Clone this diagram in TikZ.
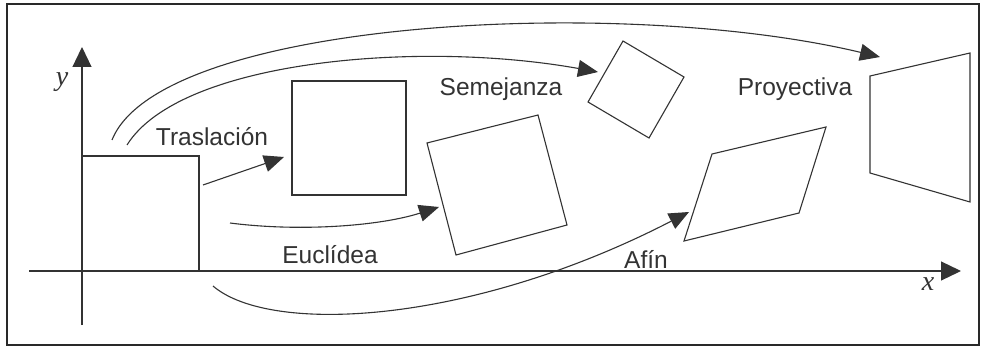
\documentclass[tikz,border=0pt]{standalone}
\usepackage{fontspec}
\setmainfont{Liberation Sans}
\newfontfamily\axfont{Liberation Serif}
\usetikzlibrary{arrows.meta}
\definecolor{ink}{HTML}{333333}
\tikzset{
  figline/.style={draw=ink, line width=1.1pt, line join=miter},
  axis/.style={draw=ink, line width=1.2pt, -{Triangle[length=20pt,width=19pt]}},
  conn/.style={draw=ink, line width=1.1pt, -{Triangle[length=20pt,width=17pt]}},
  lab/.style={text=ink, font=\fontsize{24.5}{28}\selectfont, inner sep=0pt},
  axlab/.style={text=ink, font=\axfont\itshape\fontsize{28}{30}\selectfont, inner sep=0pt}
}
\begin{document}
\begin{tikzpicture}[x=1pt,y=-1pt]
\useasboundingbox (0,0) rectangle (984,350);
\fill[white] (0,0) rectangle (984,350);
\draw[draw=ink!80!black, line width=2pt] (7,4) rectangle (979,345);
% axes
\coordinate (yb) at (82,325); \coordinate (yt) at (82,47);
\coordinate (xb) at (29,271); \coordinate (xt) at (961,271);
\draw[axis] (yb) -- (yt);
\draw[axis] (xb) -- (xt);
\node[axlab] (ylab) at (62,82) {y};
\node[axlab] (xlab) at (928,284) {x};
% original square
\draw[figline] (82,271) -- (82,156) -- (199,156) -- (199,271);
% translated
\draw[figline] (292,81) rectangle (406,195);
% euclidean
\draw[figline] (427,143) -- (538,115) -- (567,225) -- (456,255) -- cycle;
% similarity
\draw[figline] (623,41) -- (684,77) -- (649,138) -- (588,102) -- cycle;
% affine
\draw[figline] (712,154) -- (826,127) -- (799,213) -- (684,241) -- cycle;
% projective
\draw[figline] (870,76) -- (970,53) -- (970,202) -- (870,173) -- cycle;
% arrows
\coordinate (t0) at (203,185); \coordinate (t1) at (284,157);
\draw[conn] (t0) -- (t1);
\coordinate (e0) at (230,223); \coordinate (e1) at (439,207);
\draw[conn] (e0) .. controls (300,232) and (380,226) .. (e1);
\coordinate (s0) at (127,145); \coordinate (s1) at (598,72);
\draw[conn] (s0) .. controls (180,60) and (420,40) .. (s1);
\coordinate (p0) at (112,140); \coordinate (p1) at (880,57);
\draw[conn] (p0) .. controls (160,20) and (620,-5) .. (p1);
\coordinate (a0) at (213,286); \coordinate (a1) at (689,212);
\draw[conn] (a0) .. controls (270,335) and (470,325) .. (a1);
% labels
\node[lab] (lt) at (212,137) {Traslación};
\node[lab] (le) at (330,255) {Euclídea};
\node[lab] (ls) at (501,89) {Semejanza};
\node[lab] (lp) at (795,89) {Proyectiva};
\node[lab] (la) at (646,259) {Afín};
\end{tikzpicture}
\end{document}
